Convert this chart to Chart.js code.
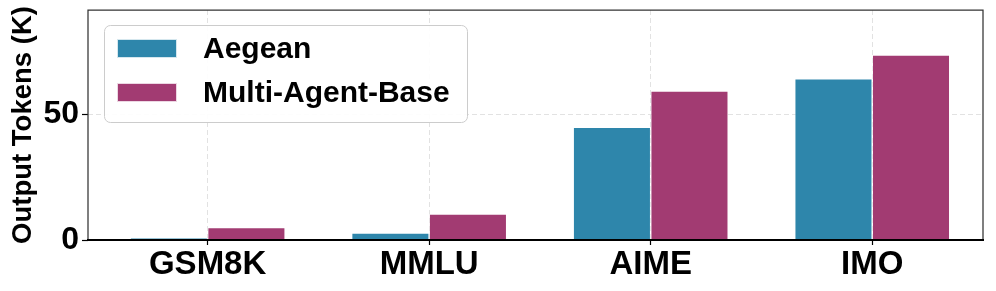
<!DOCTYPE html>
<html>
<head>
<meta charset="utf-8">
<script src="https://cdn.jsdelivr.net/npm/chart.js@4"></script>
<style>
  html, body { margin: 0; padding: 0; background: #ffffff; }
  #wrap { width: 996px; height: 291px; }
</style>
</head>
<body>
<div id="wrap"><canvas id="c" width="996" height="291"></canvas></div>
<script>
// ---- data ----
const categories = ['GSM8K', 'MMLU', 'AIME', 'IMO'];
const aegean = [0.9, 2.8, 44.8, 64.0];
const multiAgentBase = [5.0, 10.3, 59.1, 73.4];
const yTicks = [0, 50];
const seriesNames = ['Aegean', 'Multi-Agent-Base'];

const FONT = '"Liberation Sans", Arial, Helvetica, sans-serif';
const COLORS = ['#2E86AB', '#A23B72'];

const framePlugin = {
  id: 'frameAndLegend',
  afterDraw(chart) {
    const ctx = chart.ctx;
    const a = chart.chartArea;
    ctx.save();
    // frame
    ctx.setLineDash([]);
    ctx.strokeStyle = '#333333';
    ctx.lineWidth = 1.25;
    ctx.beginPath();
    ctx.moveTo(a.left, a.bottom);
    ctx.lineTo(a.left, a.top);
    ctx.lineTo(a.right, a.top);
    ctx.lineTo(a.right, a.bottom);
    ctx.stroke();
    ctx.strokeStyle = '#000000';
    ctx.lineWidth = 2;
    ctx.beginPath();
    ctx.moveTo(a.left - 1, a.bottom);
    ctx.lineTo(a.right + 1, a.bottom);
    ctx.stroke();

    // legend
    const bx = a.left + 16, by = a.top + 15, bw = 363, bh = 97;
    ctx.beginPath();
    ctx.roundRect(bx + 0.5, by + 0.5, bw, bh, 6);
    ctx.fillStyle = 'rgba(255,255,255,0.92)';
    ctx.fill();
    ctx.strokeStyle = '#cccccc';
    ctx.lineWidth = 1;
    ctx.stroke();
    const rows = [by + 23.5, by + 67.5];
    chart.data.datasets.forEach((ds, i) => {
      const cy = rows[i];
      ctx.fillStyle = ds.backgroundColor;
      ctx.fillRect(bx + 13, cy - 9.5, 60, 19);
      ctx.strokeStyle = 'rgba(255,255,255,0.8)';
      ctx.lineWidth = 1;
      ctx.strokeRect(bx + 13.5, cy - 9, 59, 18);
      ctx.fillStyle = '#000000';
      ctx.font = 'bold 30px ' + FONT;
      ctx.textBaseline = 'middle';
      ctx.textAlign = 'left';
      ctx.fillText(ds.label, bx + 99, cy + 1);
    });
    ctx.restore();
  }
};

new Chart(document.getElementById('c'), {
  type: 'bar',
  data: {
    datasets: [
      {
        label: seriesNames[0],
        data: aegean.map((v, i) => ({ x: i, y: v })),
        backgroundColor: COLORS[0],
        borderColor: 'rgba(255,255,255,0.7)',
        borderWidth: 0.75
      },
      {
        label: seriesNames[1],
        data: multiAgentBase.map((v, i) => ({ x: i, y: v })),
        backgroundColor: COLORS[1],
        borderColor: 'rgba(255,255,255,0.7)',
        borderWidth: 0.75
      }
    ]
  },
  options: {
    responsive: false,
    animation: false,
    devicePixelRatio: 1,
    layout: { padding: { top: 10, right: 13, left: 0, bottom: 0 } },
    datasets: { bar: { categoryPercentage: 0.7, barPercentage: 1.0 } },
    plugins: { legend: { display: false }, tooltip: { enabled: false } },
    scales: {
      x: {
        type: 'linear',
        min: -0.54,
        max: 3.5,
        offset: false,
        afterBuildTicks: (s) => { s.ticks = categories.map((c, i) => ({ value: i })); },
        afterFit: (s) => { s.height = 51; s.paddingLeft = 0; s.paddingRight = 0; },
        ticks: {
          callback: (v) => categories[v] ?? '',
          color: '#000000',
          font: { family: FONT, size: 33, weight: 'bold' },
          padding: 0,
          maxRotation: 0,
          autoSkip: false
        },
        grid: {
          offset: false,
          color: '#e2e2e2',
          lineWidth: 1,
          tickColor: '#000000',
          tickLength: 5,
          tickWidth: 1.2,
          tickBorderDash: []
        },
        border: { display: false, dash: [5, 3] }
      },
      y: {
        min: 0,
        max: 91.3,
        afterBuildTicks: (s) => { s.ticks = yTicks.map(v => ({ value: v })); },
        afterFit: (s) => { s.width = 88; s.paddingTop = 0; s.paddingBottom = 0; },
        ticks: {
          color: '#000000',
          font: { family: FONT, size: 32, weight: 'bold' },
          padding: 3
        },
        grid: {
          color: '#e2e2e2',
          lineWidth: 1,
          tickColor: '#000000',
          tickLength: 6,
          tickWidth: 1.2,
          tickBorderDash: []
        },
        border: { display: false, dash: [5, 3] },
        title: {
          display: true,
          text: 'Output Tokens (K)',
          color: '#000000',
          font: { family: FONT, size: 27.5, weight: 'bold' },
          padding: { top: 7, bottom: 0 }
        }
      }
    }
  },
  plugins: [framePlugin]
});
</script>
</body>
</html>
